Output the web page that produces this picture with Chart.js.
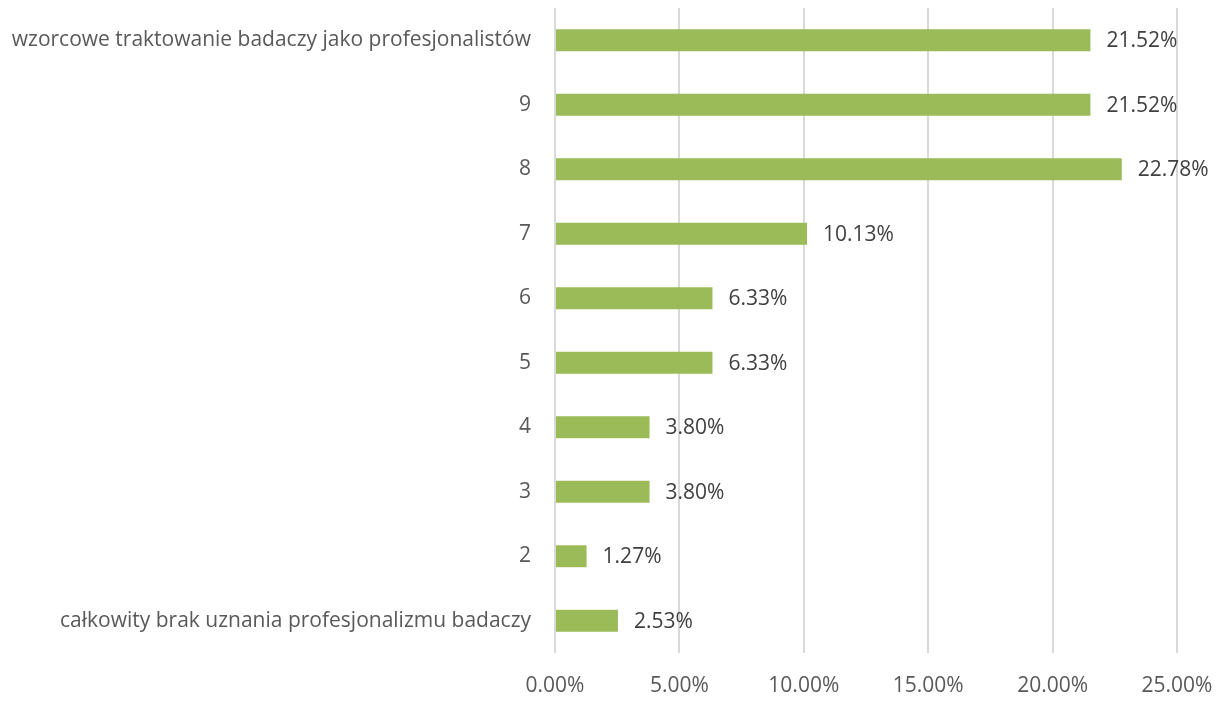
<!DOCTYPE html>
<html>
<head>
<meta charset="utf-8">
<script src="https://cdn.jsdelivr.net/npm/chart.js@4.4.1/dist/chart.umd.min.js"></script>
<style>
html,body{margin:0;padding:0;background:#fff;}
#wrap{width:1225px;height:701px;position:relative;}
</style>
</head>
<body>
<div id="wrap"><canvas id="c" width="1225" height="701"></canvas></div>
<script>
const categories = [
  "wzorcowe traktowanie badaczy jako profesjonalistów",
  "9", "8", "7", "6", "5", "4", "3", "2",
  "całkowity brak uznania profesjonalizmu badaczy"
];
const values = [21.52, 21.52, 22.78, 10.13, 6.33, 6.33, 3.80, 3.80, 1.27, 2.53];
const xTicks = [0, 5, 10, 15, 20, 25];

const FONT = "'Open Sans', 'Liberation Sans', sans-serif";
const FSIZE = 21;

const labelPlugin = {
  id: 'valueLabels',
  afterDatasetsDraw(chart) {
    const ctx = chart.ctx;
    const meta = chart.getDatasetMeta(0);
    ctx.save();
    ctx.font = FSIZE + "px " + FONT;
    ctx.fillStyle = "#404040";
    ctx.textAlign = "left";
    ctx.textBaseline = "middle";
    meta.data.forEach((bar, i) => {
      ctx.fillText(values[i].toFixed(2) + "%", bar.x + 16, bar.y + 1);
    });
    ctx.restore();
  }
};

new Chart(document.getElementById('c'), {
  type: 'bar',
  data: {
    labels: categories,
    datasets: [{
      data: values,
      backgroundColor: '#9BBB59',
      borderWidth: 0,
      barPercentage: 0.68,
      categoryPercentage: 0.5
    }]
  },
  options: {
    indexAxis: 'y',
    responsive: false,
    animation: false,
    devicePixelRatio: 1,
    layout: { padding: { top: 8, right: 48, left: 0, bottom: 0 } },
    plugins: { legend: { display: false }, tooltip: { enabled: false } },
    scales: {
      x: {
        min: 0, max: 25,
        afterBuildTicks(scale) { scale.ticks = xTicks.map(v => ({ value: v })); },
        afterFit(scale) { scale.height = 48; scale.paddingLeft = 0; scale.paddingRight = 0; },
        grid: { color: '#d9d9d9', lineWidth: 2, drawTicks: false },
        border: { display: false },
        ticks: {
          padding: 20,
          color: '#595959',
          font: { size: FSIZE, family: FONT },
          callback: v => Number(v).toFixed(2) + '%'
        }
      },
      y: {
        afterFit(scale) { scale.width = 555; scale.paddingTop = 0; scale.paddingBottom = 0; },
        grid: { display: false, drawTicks: false },
        border: { display: false },
        ticks: {
          padding: 24,
          color: '#595959',
          font: { size: FSIZE, family: FONT }
        }
      }
    }
  },
  plugins: [labelPlugin]
});
</script>
</body>
</html>
